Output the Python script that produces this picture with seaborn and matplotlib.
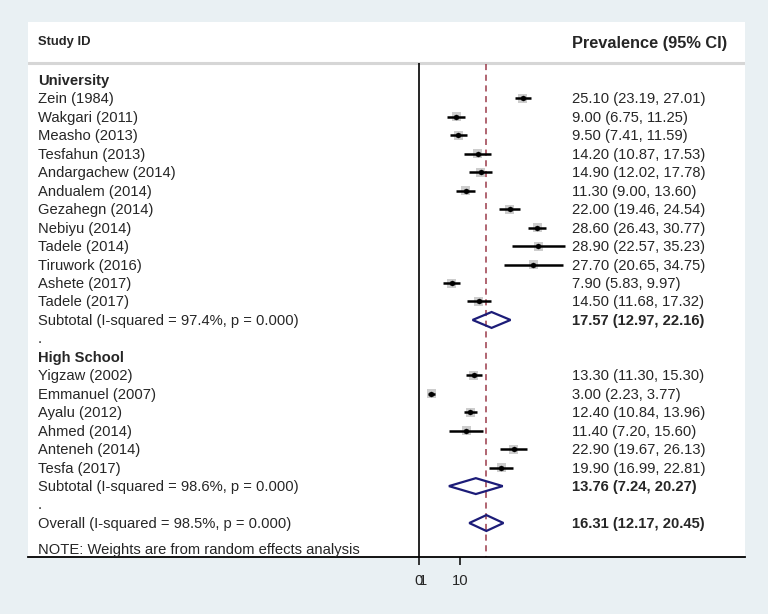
import pandas as pd
import matplotlib.pyplot as plt
import seaborn as sns

# Study-level data (prevalence, 95% CI)
uni_studies = ['Zein (1984)', 'Wakgari (2011)', 'Measho (2013)', 'Tesfahun (2013)',
               'Andargachew (2014)', 'Andualem (2014)', 'Gezahegn (2014)', 'Nebiyu (2014)',
               'Tadele (2014)', 'Tiruwork (2016)', 'Ashete (2017)', 'Tadele (2017)']
uni_est = [25.10, 9.00, 9.50, 14.20, 14.90, 11.30, 22.00, 28.60, 28.90, 27.70, 7.90, 14.50]
uni_lo = [23.19, 6.75, 7.41, 10.87, 12.02, 9.00, 19.46, 26.43, 22.57, 20.65, 5.83, 11.68]
uni_hi = [27.01, 11.25, 11.59, 17.53, 17.78, 13.60, 24.54, 30.77, 35.23, 34.75, 9.97, 17.32]

hs_studies = ['Yigzaw (2002)', 'Emmanuel (2007)', 'Ayalu (2012)', 'Ahmed (2014)',
              'Anteneh (2014)', 'Tesfa (2017)']
hs_est = [13.30, 3.00, 12.40, 11.40, 22.90, 19.90]
hs_lo = [11.30, 2.23, 10.84, 7.20, 19.67, 16.99]
hs_hi = [15.30, 3.77, 13.96, 15.60, 26.13, 22.81]

# pooled estimates: (estimate, lower, upper)
uni_pooled = (17.57, 12.97, 22.16)
hs_pooled = (13.76, 7.24, 20.27)
overall_pooled = (16.31, 12.17, 20.45)
uni_i2 = 'Subtotal (I-squared = 97.4%, p = 0.000)'
hs_i2 = 'Subtotal (I-squared = 98.6%, p = 0.000)'
overall_i2 = 'Overall (I-squared = 98.5%, p = 0.000)'

# build one row per line of the forest plot
rows = []
def add(label, kind, est=None, lo=None, hi=None):
    rows.append(dict(label=label, kind=kind, est=est, lo=lo, hi=hi, row=len(rows)))

add('University', 'group')
for s, e, l, h in zip(uni_studies, uni_est, uni_lo, uni_hi):
    add(s, 'study', e, l, h)
add(uni_i2, 'pooled', *uni_pooled)
add('.', 'blank')
add('High School', 'group')
for s, e, l, h in zip(hs_studies, hs_est, hs_lo, hs_hi):
    add(s, 'study', e, l, h)
add(hs_i2, 'pooled', *hs_pooled)
add('.', 'blank')
add(overall_i2, 'pooled', *overall_pooled)
df = pd.DataFrame(rows)

sns.set_theme(style='white')
plt.rcParams['font.family'] = ['Liberation Sans', 'DejaVu Sans']

bg = '#E9F0F3'
fig = plt.figure(figsize=(7.68, 6.14), dpi=100, facecolor=bg)
ax = fig.add_axes([28 / 768, 57 / 614, 717 / 768, 535 / 614])
ax.set_facecolor('white')
ax.set_xlim(-94.67, 78.93)
ax.set_ylim(25.84, -3.14)

studies = df[df['kind'] == 'study']
ax.hlines(studies['row'], studies['lo'], studies['hi'], color='black', lw=1.8, zorder=3)
sns.scatterplot(data=studies, x='est', y='row', marker='s', s=42, color='#CDCDCD',
                edgecolor='none', ax=ax, zorder=2, legend=False)
sns.scatterplot(data=studies, x='est', y='row', marker='o', s=13, color='black',
                edgecolor='black', ax=ax, zorder=4, legend=False)

# pooled diamonds
for _, p in df[df['kind'] == 'pooled'].iterrows():
    ax.fill([p['lo'], p['est'], p['hi'], p['est'], p['lo']],
            [p['row'], p['row'] - 0.43, p['row'], p['row'] + 0.43, p['row']],
            facecolor='none', edgecolor='#1C1C78', lw=1.6, zorder=5)

# reference lines
ax.axhline(-0.92, color='#D6D6D6', lw=2.2)
ax.vlines(0, -0.92, 25.84, color='black', lw=1.2)
ax.vlines(overall_pooled[0], -0.85, 25.84, color='#9B3A4A', lw=1.1, linestyles=(0, (4, 3)))

tr = ax.get_yaxis_transform()
ax.text(0.0139, -2.06, 'Study ID', transform=tr, fontsize=9.4, fontweight='bold', va='center')
ax.text(0.7587, -2.0, 'Prevalence (95% CI)', transform=tr, fontsize=11.8,
        fontweight='bold', va='center')

for _, r in df.iterrows():
    bold = r['kind'] == 'group'
    ax.text(0.0139, r['row'] + 0.05, r['label'], transform=tr, fontsize=10.6, va='center',
            fontweight='bold' if bold else 'normal')
    if r['kind'] in ('study', 'pooled'):
        txt = f"{r['est']:.2f} ({r['lo']:.2f}, {r['hi']:.2f})"
        ax.text(0.7587, r['row'] + 0.05, txt, transform=tr, fontsize=10.6, va='center',
                fontweight='bold' if r['kind'] == 'pooled' else 'normal')

ax.text(0.0139, df['row'].max() + 1.45, 'NOTE: Weights are from random effects analysis',
        transform=tr, fontsize=10.6, va='center')

# x axis
ax.set_xticks([0, 10], ['0', '10'])
ax.set_xticks([0.9], ['1'], minor=True)
ax.tick_params(axis='x', which='major', length=6, width=1.1, color='black',
               labelsize=10.6, pad=6, bottom=True)
ax.tick_params(axis='x', which='minor', length=0, labelsize=10.6, pad=12, bottom=True)
ax.set_yticks([])
ax.grid(False)
for side in ['top', 'left', 'right']:
    ax.spines[side].set_visible(False)
ax.spines['bottom'].set_color('black')
ax.spines['bottom'].set_linewidth(1.3)
ax.set_xlabel('')
ax.set_ylabel('')

fig.savefig('out.png', dpi=100, facecolor=bg)
